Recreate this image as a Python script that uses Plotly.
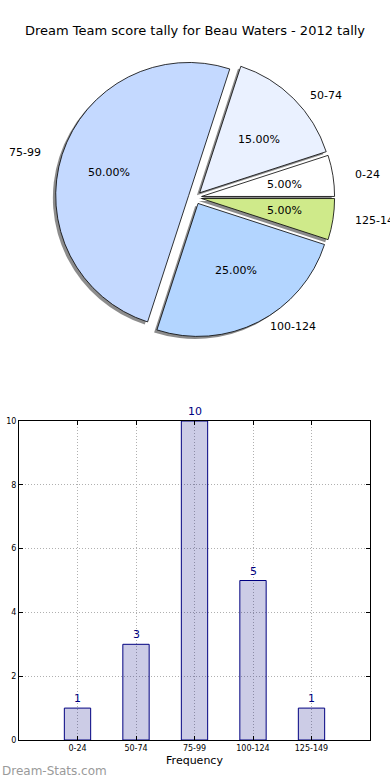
import math
import plotly.graph_objects as go

# ---------------- data ----------------
title_text = "Dream Team score tally for Beau Waters - 2012 tally"
categories = ["0-24", "50-74", "75-99", "100-124", "125-149"]
counts = [1, 3, 10, 5, 1]
pie_colors = ["#ffffff", "#eaf1ff", "#c4d9ff", "#b3d5ff", "#cfea8a"]
y_ticks = [0, 2, 4, 6, 8, 10]
x_title = "Frequency"
y_title = "Occurrences"
watermark = "Dream-Stats.com"

# ---------------- layout constants ----------------
W, H = 390, 780
FONT = "DejaVu Sans"
PULL = 0.05
R = 133                  # plotly pie radius (px)
CX, CY = 195, 197.5      # pie centre (px)
RX, RY = 139, 126        # radii used for text placement (px)
SHX, SHY = -2.8, 2.5     # shadow offset (px)


def px(x):
    return x / W


def py(y):
    return 1 - y / H


half = R * (1 + PULL)
dom_x = [px(CX - half), px(CX + half)]
dom_y = [py(CY + half), py(CY - half)]
sdom_x = [px(CX - half + SHX), px(CX + half + SHX)]
sdom_y = [py(CY + half + SHY), py(CY - half + SHY)]

total = sum(counts)
# first slice starts at 3 o'clock and runs counter-clockwise
rotation = 90 - 360 * counts[0] / total

fig = go.Figure()

common = dict(labels=categories, values=counts, sort=False,
              direction="counterclockwise", rotation=rotation,
              pull=[PULL] * len(counts), textinfo="none",
              hoverinfo="skip", showlegend=False)

# shadow
fig.add_trace(go.Pie(**common,
                     marker=dict(colors=["rgba(0,0,0,0.45)"] * len(counts),
                                 line=dict(width=0)),
                     domain=dict(x=sdom_x, y=sdom_y)))
# pie
fig.add_trace(go.Pie(**common,
                     marker=dict(colors=pie_colors,
                                 line=dict(color="black", width=0.8)),
                     domain=dict(x=dom_x, y=dom_y)))

# pie texts (percent inside, label outside)
start = 0.0
annotations = []
for cat, v in zip(categories, counts):
    frac = v / total
    mid = math.radians((start + frac / 2) * 360)
    start += frac
    c, s = math.cos(mid), math.sin(mid)
    ex = CX + PULL * RX * c
    ey = CY - PULL * RY * s
    annotations.append(dict(
        x=px(ex + 0.6 * RX * c), y=py(ey - 0.6 * RY * s),
        xref="paper", yref="paper", text=f"{frac * 100:.2f}%",
        showarrow=False, xanchor="center", yanchor="middle",
        font=dict(family=FONT, size=11, color="black")))
    annotations.append(dict(
        x=px(ex + 1.1 * RX * c), y=py(ey - 1.1 * RY * s),
        xref="paper", yref="paper", text=cat, showarrow=False,
        xanchor="left" if c > 0 else "right", yanchor="middle",
        font=dict(family=FONT, size=11, color="black")))

# bar chart
fig.add_trace(go.Bar(x=categories, y=counts, width=0.45,
                     marker=dict(color="rgba(0,0,128,0.2)",
                                 line=dict(color="#000080", width=1)),
                     hoverinfo="skip", showlegend=False))
for cat, v in zip(categories, counts):
    annotations.append(dict(
        x=cat, y=v, xref="x", yref="y", text=str(v), showarrow=False,
        xanchor="center", yanchor="bottom", yshift=1,
        font=dict(family=FONT, size=11, color="#000080")))

annotations.append(dict(
    x=px(3), y=py(582), xref="paper", yref="paper", text=y_title,
    textangle=-90, showarrow=False, xanchor="right", yanchor="middle",
    font=dict(family=FONT, size=11, color="black")))
annotations.append(dict(
    x=0, y=py(771), xref="paper", yref="paper", text=watermark,
    showarrow=False, xanchor="left", yanchor="middle",
    font=dict(family=FONT, size=12, color="#9a9a9a")))

fig.update_layout(
    width=W, height=H,
    margin=dict(l=0, r=0, t=0, b=0, autoexpand=False),
    paper_bgcolor="white", plot_bgcolor="white",
    font=dict(family=FONT, color="black"),
    title=dict(text=title_text, x=0.5, xanchor="center",
               y=py(30), yanchor="middle",
               font=dict(family=FONT, size=13, color="black")),
    xaxis=dict(domain=[px(19), px(370)], range=[-1, 5],
               type="category", tickvals=categories, automargin=False,
               showgrid=True, gridcolor="#b0b0b0", griddash="1px,2px",
               gridwidth=1, showline=True, linecolor="black",
               linewidth=1, mirror="ticks", ticks="inside", ticklen=4,
               tickcolor="black", tickfont=dict(size=8),
               title=dict(text=x_title, font=dict(size=11), standoff=4),
               zeroline=False),
    yaxis=dict(domain=[py(740), py(421)], range=[0, 10], automargin=False,
               tickvals=y_ticks, showgrid=True, gridcolor="#b0b0b0",
               griddash="1px,2px", gridwidth=1, showline=True,
               linecolor="black", linewidth=1, mirror="ticks",
               ticks="inside", ticklen=4, tickcolor="black",
               tickfont=dict(size=8), zeroline=False),
    annotations=annotations,
)

fig.write_html("out.html",
               config={"displayModeBar": False},
               post_script="document.body.style.margin='0';")
